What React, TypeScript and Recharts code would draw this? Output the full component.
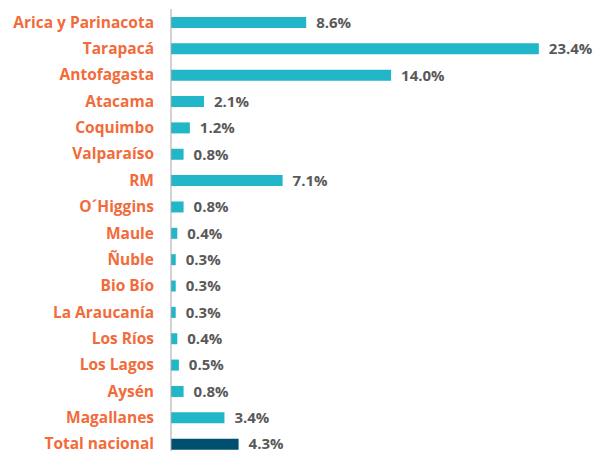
import { BarChart, Bar, XAxis, YAxis, Cell, LabelList } from "recharts";

const regions = [
  "Arica y Parinacota",
  "Tarapacá",
  "Antofagasta",
  "Atacama",
  "Coquimbo",
  "Valparaíso",
  "RM",
  "O´Higgins",
  "Maule",
  "Ñuble",
  "Bio Bío",
  "La Araucanía",
  "Los Ríos",
  "Los Lagos",
  "Aysén",
  "Magallanes",
  "Total nacional",
];

const values = [8.6, 23.4, 14.0, 2.1, 1.2, 0.8, 7.1, 0.8, 0.4, 0.3, 0.3, 0.3, 0.4, 0.5, 0.8, 3.4, 4.3];

const data = regions.map((name, i) => ({ name, value: values[i] }));

const FONT = "'Open Sans', sans-serif";

export default function App() {
  return (
    <div style={{ position: "absolute", left: 0, top: 0, width: 596, height: 451, overflow: "hidden", background: "#fff" }}>
      <BarChart
        width={596}
        height={457}
        data={data}
        layout="vertical"
        margin={{ top: 9, right: 32, bottom: 0, left: 0 }}
        barCategoryGap={0}
      >
        <XAxis type="number" domain={[0, 25]} hide />
        <YAxis
          type="category"
          dataKey="name"
          width={171}
          interval={0}
          tickLine={false}
          tickSize={0}
          tickMargin={17}
          axisLine={{ stroke: "#a6a6a6", strokeWidth: 1 }}
          tick={{ fill: "#f26b3a", fontSize: 15.5, fontWeight: 700, fontFamily: FONT }}
        />
        <Bar dataKey="value" barSize={11} isAnimationActive={false}>
          {data.map((d, i) => (
            <Cell key={d.name} fill={i === data.length - 1 ? "#004f6e" : "#21b6c8"} />
          ))}
          <LabelList
            dataKey="value"
            position="right"
            offset={10}
            formatter={(v: number) => `${v.toFixed(1)}%`}
            style={{ fill: "#595959", fontSize: 15, fontWeight: 700, fontFamily: FONT }}
          />
        </Bar>
      </BarChart>
    </div>
  );
}
